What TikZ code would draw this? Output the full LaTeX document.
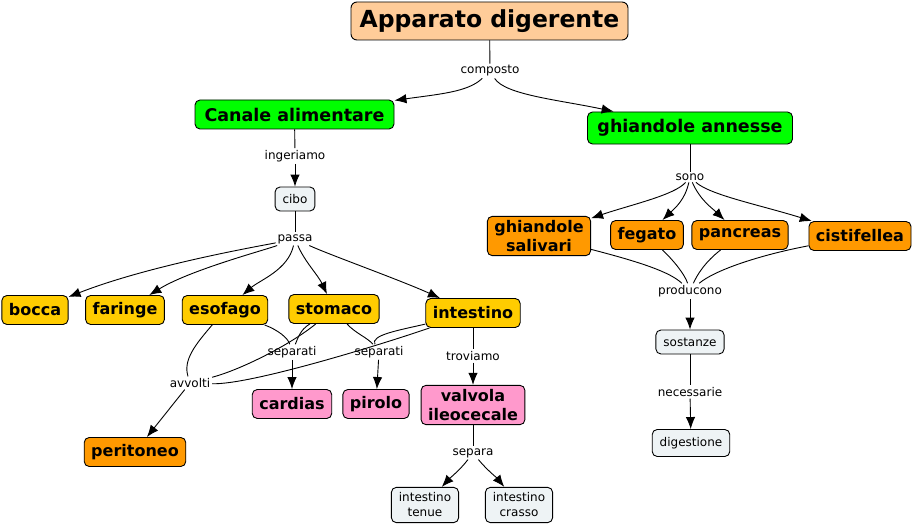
\documentclass[tikz,border=0pt]{standalone}
\usepackage{fontspec}
\setmainfont{DejaVu Sans}
\usetikzlibrary{arrows.meta}
\definecolor{pesca}{RGB}{255,204,153}
\definecolor{verde}{RGB}{0,255,0}
\definecolor{giallo}{RGB}{255,204,0}
\definecolor{arancio}{RGB}{255,153,0}
\definecolor{rosa}{RGB}{255,153,204}
\definecolor{chiaro}{RGB}{238,243,245}
\begin{document}
\begin{tikzpicture}[x=1pt, y=-1pt, line width=0.9pt, >={Latex[length=12pt,width=9.5pt]},
    concept/.style={draw, rounded corners=5pt, align=center, font=\fontsize{16}{19}\selectfont\bfseries, inner xsep=7pt, inner ysep=4pt, minimum height=29pt},
    main/.style={concept, fill=verde, font=\fontsize{17.5}{20}\selectfont\bfseries, inner xsep=6pt},
    small/.style={draw, rounded corners=5pt, fill=chiaro, align=center, font=\fontsize{12}{15}\selectfont, inner xsep=7.5pt, inner ysep=5.5pt, minimum height=24pt},
    link/.style={font=\fontsize{12}{14}\selectfont, inner sep=1.5pt}]
  \useasboundingbox (0,0) rectangle (914,527);
  % Concepts
  \node[draw, rounded corners=6pt, fill=pesca, font=\fontsize{23.5}{28}\selectfont\bfseries, minimum width=277pt, minimum height=38pt] (apparato) at (489.5,21) {Apparato digerente};
  \node[main, minimum width=199pt] (canale) at (294.5,114.5) {Canale alimentare};
  \node[main, minimum width=205pt, minimum height=32pt] (annesse) at (690,128) {ghiandole annesse};
  \node[small] (cibo) at (295,199) {cibo};
  \node[concept, fill=giallo] (bocca) at (35,310) {bocca};
  \node[concept, fill=giallo] (faringe) at (125,310) {faringe};
  \node[concept, fill=giallo] (esofago) at (225,310) {esofago};
  \node[concept, fill=giallo] (stomaco) at (334,309) {stomaco};
  \node[concept, fill=giallo] (intestino) at (473,313) {intestino};
  \node[concept, fill=rosa] (cardias) at (292,404) {cardias};
  \node[concept, fill=rosa] (pirolo) at (376,404) {pirolo};
  \node[concept, fill=rosa] (valvola) at (473,405) {valvola\\ileocecale};
  \node[concept, fill=arancio] (peritoneo) at (135,452) {peritoneo};
  \node[small] (tenue) at (425,505) {intestino\\tenue};
  \node[small] (crasso) at (519,505) {intestino\\crasso};
  \node[concept, fill=arancio] (salivari) at (539,236) {ghiandole\\salivari};
  \node[concept, fill=arancio] (fegato) at (647,235) {fegato};
  \node[concept, fill=arancio] (pancreas) at (740,235) {pancreas};
  \node[concept, fill=arancio] (cistifellea) at (860,236) {cistifellea};
  \node[small] (sostanze) at (690,342) {sostanze};
  \node[small, minimum height=27pt] (digestione) at (691,443) {digestione};
  % Linking phrases
  \node[link] (composto) at (490,71) {composto};
  \node[link] (ingeriamo) at (295,156) {ingeriamo};
  \node[link] (passa) at (295,239) {passa};
  \node[link] (sep1) at (292,352) {separati};
  \node[link] (sep2) at (379,352) {separati};
  \node[link] (troviamo) at (473,356) {troviamo};
  \node[link] (avvolti) at (190,383) {avvolti};
  \node[link] (separa) at (473,453) {separa};
  \node[link] (sono) at (690,177) {sono};
  \node[link] (producono) at (690,291) {producono};
  \node[link] (necessarie) at (690,392) {necessarie};
  % Top
  \draw (apparato) -- (composto);
  \draw[->] (composto) .. controls (468,92) and (440,94) .. (canale);
  \draw[->] (composto) .. controls (505,95) and (560,100) .. (annesse);
  % Canale alimentare
  \draw (canale) -- (ingeriamo);
  \draw[->] (ingeriamo) -- (cibo);
  \draw (cibo) -- (passa);
  \draw[->] (passa) .. controls (260,246) and (150,265) .. (bocca);
  \draw[->] (passa) .. controls (265,250) and (190,270) .. (faringe);
  \draw[->] (passa) .. controls (288,270) and (260,280) .. (esofago);
  \draw[->] (passa) .. controls (305,262) and (318,275) .. (stomaco);
  \draw[->] (passa) .. controls (330,255) and (400,280) .. (intestino);
  % separati
  \draw (esofago) .. controls (278,330) and (288,338) .. (sep1);
  \draw (stomaco) .. controls (300,330) and (298,338) .. (sep1);
  \draw[->] (sep1) -- (cardias);
  \draw (stomaco) .. controls (355,333) and (368,338) .. (sep2);
  \draw (intestino) .. controls (400,330) and (370,335) .. (sep2);
  \draw[->] (sep2) -- (pirolo);
  % avvolti
  \draw (esofago) .. controls (195,345) and (183,360) .. (avvolti);
  \draw (stomaco) .. controls (290,345) and (240,370) .. (avvolti);
  \draw (intestino) .. controls (380,345) and (250,385) .. (avvolti);
  \draw[->] (avvolti) -- (peritoneo);
  % Intestino
  \draw (intestino) -- (troviamo);
  \draw[->] (troviamo) -- (valvola);
  \draw (valvola) -- (separa);
  \draw[->] (separa) .. controls (460,470) and (450,478) .. (tenue);
  \draw[->] (separa) .. controls (487,470) and (497,478) .. (crasso);
  % ghiandole annesse
  \draw (annesse) -- (sono);
  \draw[->] (sono) .. controls (675,195) and (630,205) .. (salivari);
  \draw[->] (sono) .. controls (685,200) and (675,208) .. (fegato);
  \draw[->] (sono) .. controls (700,200) and (712,208) .. (pancreas);
  \draw[->] (sono) .. controls (710,195) and (760,205) .. (cistifellea);
  \draw (salivari) .. controls (640,262) and (670,272) .. (producono);
  \draw (fegato) .. controls (675,262) and (685,275) .. (producono);
  \draw (pancreas) .. controls (705,262) and (697,275) .. (producono);
  \draw (cistifellea) .. controls (760,255) and (715,270) .. (producono);
  \draw[->] (producono) -- (sostanze);
  \draw (sostanze) -- (necessarie);
  \draw[->] (necessarie) -- (digestione);
\end{tikzpicture}
\end{document}
